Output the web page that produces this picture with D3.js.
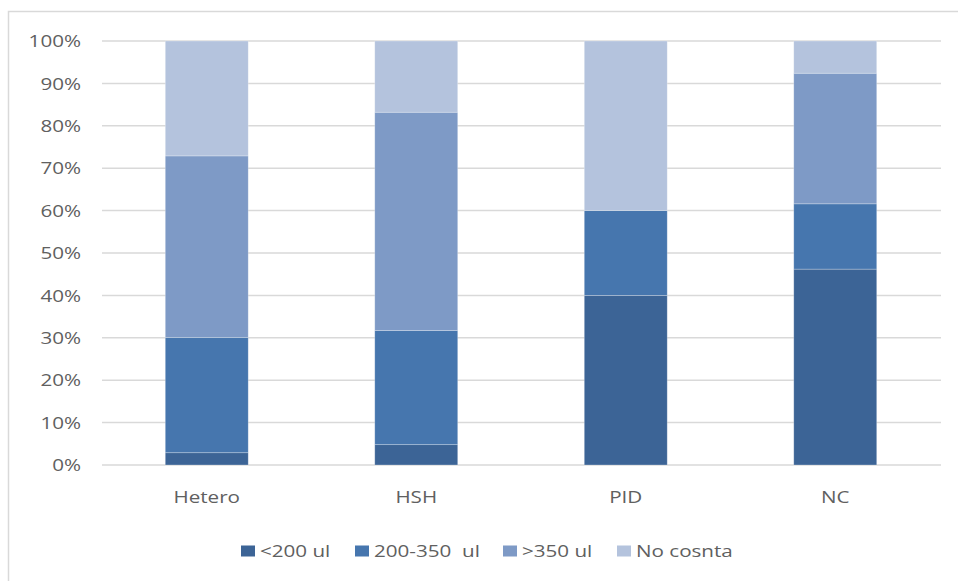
<!DOCTYPE html>
<html>
<head>
<meta charset="utf-8">
<script src="https://cdn.jsdelivr.net/npm/d3@7"></script>
<style>
  html, body { margin: 0; padding: 0; background: #fff; }
  svg { display: block; }
  text { font-family: "Open Sans", Lato, sans-serif; fill: #606060; }
</style>
</head>
<body>
<svg id="chart" width="958" height="581"></svg>
<script>
// Groups and the share of each CD4 category (percent of the group)
const categories = ["Hetero", "HSH", "PID", "NC"];
const seriesNames = ["<200 ul", "200-350  ul", ">350 ul", "No cosnta"];
const below200     = [2.9, 4.8, 40.0, 46.2];
const from200to350 = [27.2, 26.9, 20.0, 15.4];
const above350     = [42.8, 51.5, 0.0, 30.8];
const noConsta     = [27.1, 16.8, 40.0, 7.6];
const yTicks = [0, 0.1, 0.2, 0.3, 0.4, 0.5, 0.6, 0.7, 0.8, 0.9, 1.0];
const colors = ["#3c6496", "#4676ae", "#7e9ac6", "#b4c3dd"];

const rows = categories.map((c, i) => ({
  cat: c,
  [seriesNames[0]]: below200[i] / 100,
  [seriesNames[1]]: from200to350[i] / 100,
  [seriesNames[2]]: above350[i] / 100,
  [seriesNames[3]]: noConsta[i] / 100
}));

const svg = d3.select("#chart");
const sx = 1.25;       // horizontal stretch of the lettering
const fontSize = 16.5;

// outer frame of the chart area
svg.append("rect")
  .attr("x", 8.5).attr("y", 11.5)
  .attr("width", 1000).attr("height", 1000)
  .attr("fill", "none").attr("stroke", "#d9d9d9").attr("stroke-width", 1.5);

const x = d3.scaleBand().domain(categories).range([102, 940])
  .paddingInner(0.604).paddingOuter(0.302);
const y = d3.scaleLinear().domain([0, 1]).range([465, 41]);

// gridlines
svg.append("g").selectAll("line").data(yTicks).join("line")
  .attr("x1", 102).attr("x2", 941)
  .attr("y1", d => y(d)).attr("y2", d => y(d))
  .attr("stroke", "#d9d9d9").attr("stroke-width", 1.5);

// y axis labels
const yAxis = d3.axisLeft(y).tickValues(yTicks).tickFormat(d3.format(".0%")).tickSize(0);
const yg = svg.append("g").attr("transform", "translate(81,0)").call(yAxis);
yg.select(".domain").remove();
yg.selectAll(".tick text")
  .attr("x", 0).attr("dy", "0.35em")
  .attr("font-size", fontSize)
  .attr("font-family", "'Open Sans', sans-serif")
  .attr("fill", "#606060")
  .attr("text-anchor", "end")
  .attr("transform", `scale(${sx},1)`);

// stacked bars
const layers = d3.stack().keys(seriesNames)(rows);
svg.append("g").selectAll("g").data(layers).join("g")
  .attr("fill", (d, i) => colors[i])
  .selectAll("rect").data(d => d).join("rect")
  .attr("x", d => x(d.data.cat))
  .attr("width", x.bandwidth())
  .attr("y", d => y(d[1]))
  .attr("height", d => y(d[0]) - y(d[1]))
  .attr("stroke", "#ffffff").attr("stroke-opacity", 0.35).attr("stroke-width", 0.75);

// x axis labels
const xAxis = d3.axisBottom(x).tickSize(0);
const xg = svg.append("g").attr("transform", "translate(0,465)").call(xAxis);
xg.select(".domain").remove();
xg.selectAll(".tick text")
  .attr("y", 0).attr("dy", 0)
  .attr("font-size", fontSize)
  .attr("font-family", "'Open Sans', sans-serif")
  .attr("fill", "#606060")
  .attr("transform", `translate(0,38) scale(${sx},1)`);

// legend
const legendX = [241, 355, 503, 617];
const lg = svg.append("g");
seriesNames.forEach((name, i) => {
  lg.append("rect")
    .attr("x", legendX[i]).attr("y", 545.5)
    .attr("width", 14).attr("height", 11)
    .attr("fill", colors[i]);
  lg.append("text")
    .attr("transform", `translate(${legendX[i] + 19},556.5) scale(${sx},1)`)
    .attr("font-size", fontSize)
    .style("white-space", "pre")
    .text(name);
});
</script>
</body>
</html>
